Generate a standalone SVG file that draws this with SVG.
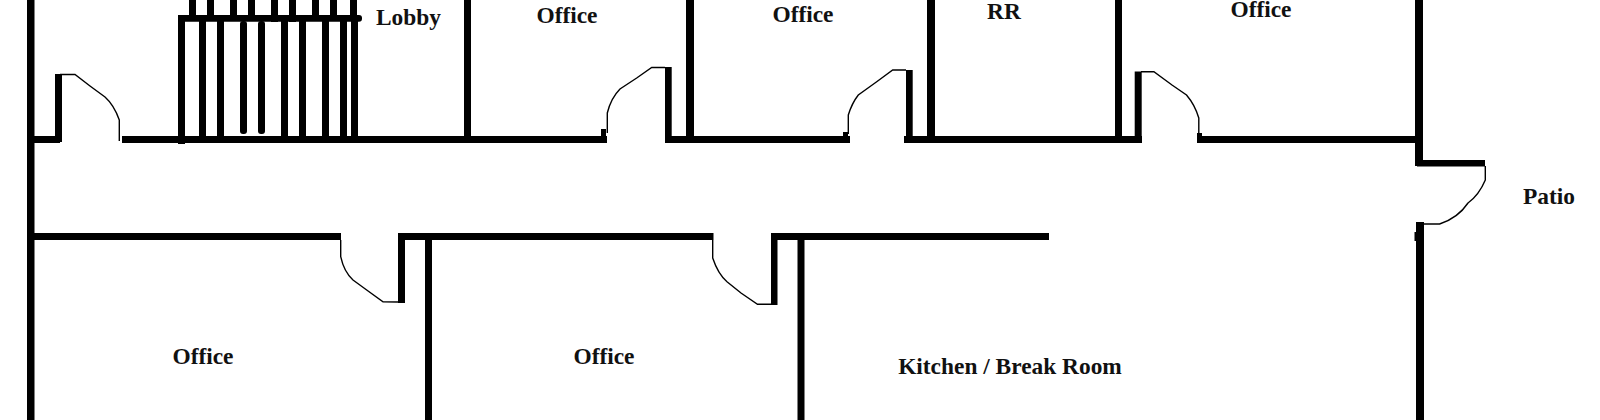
<svg xmlns="http://www.w3.org/2000/svg" width="1600" height="420" viewBox="0 0 1600 420">
<style>
.w{fill:#000}
.d{fill:none;stroke:#000;stroke-width:1.4}
text{font-family:"Liberation Serif","Times New Roman",serif;font-weight:bold;font-size:23.400px;fill:#111;text-anchor:middle}
</style>
<rect width="1600" height="420" fill="#fff"/>
<g id="walls" class="w">
<rect x="27" y="0" width="7.500" height="420"/>
<rect x="27" y="136" width="33" height="7"/>
<rect x="122" y="136" width="485" height="7"/>
<rect x="665" y="136" width="185" height="7"/>
<rect x="904" y="136" width="238" height="7"/>
<rect x="1197" y="136" width="222" height="7"/>
<rect x="464" y="0" width="7" height="143"/>
<rect x="686" y="0" width="8" height="143"/>
<rect x="927" y="0" width="8" height="143"/>
<rect x="1115" y="0" width="7" height="143"/>
<rect x="1415" y="0" width="8" height="166"/>
<rect x="1417" y="160" width="68" height="6.500"/>
<rect x="1416" y="222" width="8" height="198"/>
<rect x="1414.500" y="232" width="3" height="9"/>
<rect x="27" y="233" width="314" height="7"/>
<rect x="398" y="233" width="315.500" height="7"/>
<rect x="771" y="233" width="278" height="7"/>
<rect x="425" y="240" width="7" height="180"/>
<rect x="797.500" y="240" width="7" height="180"/>
<rect x="55" y="74" width="7" height="68"/>
<rect x="665" y="67" width="6.700" height="70"/>
<rect x="906" y="70" width="6.700" height="67"/>
<rect x="1134.700" y="71.500" width="7" height="65"/>
<rect x="601" y="129" width="5" height="8"/>
<rect x="843" y="132" width="5" height="5"/>
<rect x="1197" y="133" width="5" height="4"/>
<rect x="398" y="240" width="7" height="63"/>
<rect x="771" y="240" width="6.500" height="65"/>
</g>
<g id="stairs" class="w">
<rect x="178" y="15" width="184" height="6.700" rx="3"/>
<rect x="178" y="15" width="7" height="129"/>
<rect x="199" y="21" width="7" height="115"/>
<rect x="217" y="21" width="7" height="115"/>
<rect x="240" y="21" width="7" height="113" rx="3"/>
<rect x="258" y="21" width="7" height="113" rx="3"/>
<rect x="281" y="21" width="7" height="115"/>
<rect x="299" y="21" width="7" height="115"/>
<rect x="322" y="21" width="7" height="115"/>
<rect x="340" y="21" width="7" height="115"/>
<rect x="351" y="15" width="7" height="121"/>
<rect x="189" y="0" width="7" height="16"/>
<rect x="207" y="0" width="7" height="16"/>
<rect x="230" y="0" width="7" height="16"/>
<rect x="248" y="0" width="7" height="16"/>
<rect x="271" y="0" width="7" height="22"/>
<rect x="289" y="0" width="7" height="22"/>
<rect x="312" y="0" width="7" height="16"/>
<rect x="330" y="0" width="7" height="16"/>
<rect x="350" y="0" width="7" height="16"/>
</g>
<g id="door-swings" class="d">
<path d="M60 74.500H75L90 86L105 97Q114 105 119.300 120V141"/>
<path d="M665 67.500H651.700L636.700 78L620 89Q611 98 607.300 113V133"/>
<path d="M906 70H892.700L876.700 81.700L858.300 95Q852 103 848.300 115V134"/>
<path d="M1141 71.700H1153.900L1172 85L1186.500 95Q1195 105 1198.800 118V135"/>
<path d="M1485.300 166V180Q1479 195 1468 203Q1458 218 1439.600 224H1424"/>
<path d="M340.700 240V256.700Q344 272 353 280L366.700 290L383 301.700L398 302"/>
<path d="M712.700 240V258Q718 274 727 281.700L741 293L757.500 304.300H771"/>
</g>
<g id="labels">
<text x="408.500" y="24.500">Lobby</text>
<text x="567" y="23">Office</text>
<text x="803" y="22">Office</text>
<text x="1004" y="18.500">RR</text>
<text x="1261" y="17">Office</text>
<text x="1549" y="203.500">Patio</text>
<text x="203" y="363.500">Office</text>
<text x="604" y="363.500">Office</text>
<text x="1010" y="373.500">Kitchen / Break Room</text>
</g>
</svg>
